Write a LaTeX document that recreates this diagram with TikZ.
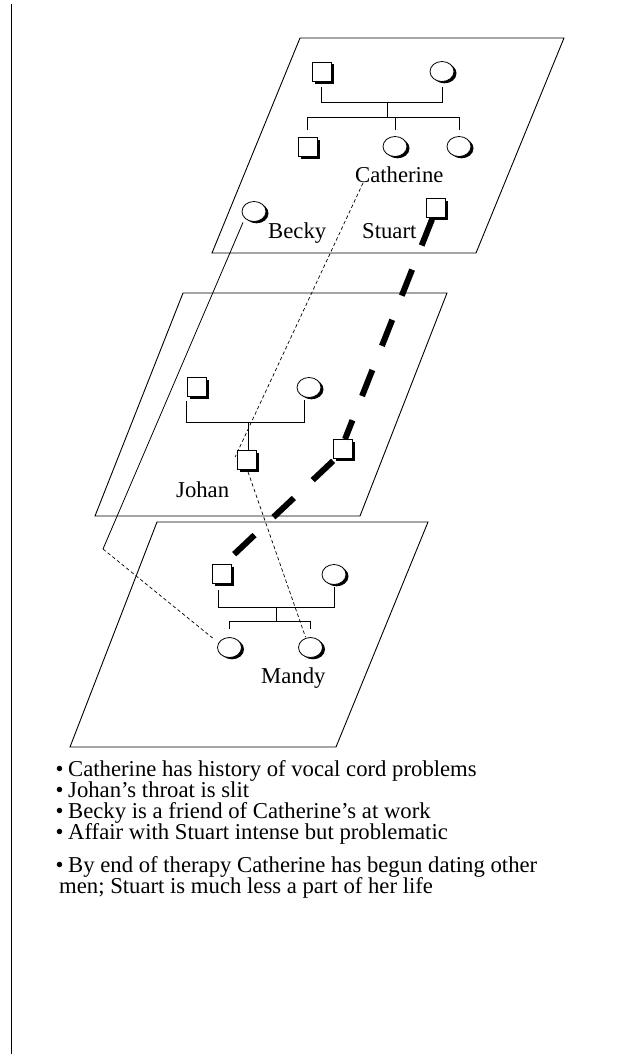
\documentclass[tikz,border=0pt]{standalone}
\usepackage{fontspec}
\setmainfont{Liberation Serif}
\usetikzlibrary{shapes.geometric,shadows}
\begin{document}
\begin{tikzpicture}[x=1pt,y=-1pt,
  shade/.style={drop shadow={shadow xshift=2.5pt, shadow yshift=-2.5pt, fill=black, draw=none, opacity=1}},
  male/.style={rectangle, draw, fill=white, minimum size=19pt, inner sep=0pt, line width=0.8pt, shade},
  female/.style={ellipse, draw, fill=white, minimum width=24pt, minimum height=20pt, inner sep=0pt, line width=0.8pt,
    drop shadow={shadow xshift=2.5pt, shadow yshift=-1.8pt, fill=black, draw=none, opacity=1}},
  plane/.style={line width=0.9pt},
  kin/.style={line width=0.8pt},
  lbl/.style={font=\fontsize{22.7}{22.7}\selectfont, inner sep=0pt, anchor=base west},
  link/.style={dash pattern=on 3.5pt off 2.5pt, line width=0.7pt},
  affair/.style={line width=6pt, dash pattern=on 28pt off 26pt},
]
\useasboundingbox (0,0) rectangle (624,1057);
\fill[white] (0,0) rectangle (624,1057);

% margin rule
\draw[line width=1.3pt] (11.5,4) -- (11.5,1054);

% planes
\draw[plane] (300,38) -- (564,38) -- (476,253) -- (212,253) -- cycle;
\draw[plane] (183,293) -- (447,293) -- (360,516) -- (95,516) -- cycle;
\draw[plane] (157,522) -- (428,522) -- (336,747) -- (70,747) -- cycle;

% top plane
\node[male] (tA) at (321.5,71.5) {};
\node[female] (tB) at (442,71.5) {};
\node[male] (tC) at (307.5,146.5) {};
\node[female] (tD) at (395,146.5) {};
\node[female] (tE) at (459,146.5) {};
\node[female] (tBecky) at (254,211.5) {};
\node[male] (tStuart) at (435.5,208) {};
\node[lbl] (lCath) at (355,182) {Catherine};
\node[lbl] (lBecky) at (268,238) {Becky};
\node[lbl] (lStuart) at (362,238) {Stuart};
\coordinate (tm) at (387,102);
\coordinate (ts) at (387,117);
\draw[kin] ([yshift=-5.5pt]tA.south) -- (tA.south |- tm) -- (tB.south |- tm) -- ([yshift=-5.5pt]tB.south);
\draw[kin] (tm) -- (ts);
\draw[kin] (tC.north |- ts) -- (tE.north |- ts);
\foreach \n in {tC,tD,tE} \draw[kin] (\n.north |- ts) -- ++(0,13);

% middle plane
\node[male] (mA) at (196.5,386.5) {};
\node[female] (mB) at (309,387.5) {};
\node[male] (mJ) at (247,460) {};
\node[male] (mD) at (343,449) {};
\node[lbl] (lJohan) at (176,497) {Johan};
\coordinate (mm) at (248,422);
\draw[kin] ([yshift=-5pt]mA.south west) -- (mA.south west |- mm) -- ([xshift=-5pt]mB.south |- mm) -- ([xshift=-5pt,yshift=-2pt]mB.south);
\draw[kin] (mm) -- (mm |- mJ.north);

% bottom plane
\node[male] (bA) at (222,574) {};
\node[female] (bB) at (334,574.5) {};
\node[female] (bC) at (229.5,647.5) {};
\node[female] (bD) at (310.5,647.5) {};
\node[lbl] (lMandy) at (261,683) {Mandy};
\coordinate (bm) at (276,607);
\coordinate (bs) at (276,621);
\draw[kin] ([xshift=-4pt,yshift=-6pt]bA.south) -- ([xshift=-4pt]bA.south |- bm) -- (bB.south |- bm) -- ([yshift=-2pt]bB.south);
\draw[kin] (bm) -- (bs);
\draw[kin] (bC.north |- bs) -- (bD.north |- bs);
\foreach \n in {bC,bD} \draw[kin] (\n.north |- bs) -- ++(0,8);

% relationship lines
\coordinate (bk) at (103,549);
\draw[kin] ([xshift=-11pt,yshift=-0.5pt]tBecky.south) -- (bk);
\draw[link] (bk) -- ([shift={(-4.5pt,9.5pt)}]bC.west);
\draw[link] ([xshift=8pt,yshift=-1pt]lCath.base west) -- ([xshift=-2pt,yshift=3pt]mJ.west);
\draw[link] ([xshift=1pt,yshift=-2pt]mJ.south) -- ([xshift=-5pt]bD.north);
\draw[affair] ([xshift=-3.5pt,yshift=-1.5pt]tStuart.south) -- ([xshift=2pt]mD.north);
\draw[affair] ([yshift=-2pt]mD.south west) -- ([xshift=-5pt,yshift=3pt]bA.north east);

% notes
\node[lbl] (n1b) at (55.5,776) {•};
\node[lbl] (n1) at (68,776) {Catherine has history of vocal cord problems};
\node[lbl] (n2b) at (55.5,797) {•};
\node[lbl] (n2) at (68,797) {Johan’s throat is slit};
\node[lbl] (n3b) at (55.5,818) {•};
\node[lbl] (n3) at (68,818) {Becky is a friend of Catherine’s at work};
\node[lbl] (n4b) at (55.5,839) {•};
\node[lbl] (n4) at (68,839) {Affair with Stuart intense but problematic};
\node[lbl] (n5b) at (55.5,872) {•};
\node[lbl] (n5) at (68,872) {By end of therapy Catherine has begun dating other};
\node[lbl] (n6) at (59,893) {men; Stuart is much less a part of her life};
\end{tikzpicture}
\end{document}
